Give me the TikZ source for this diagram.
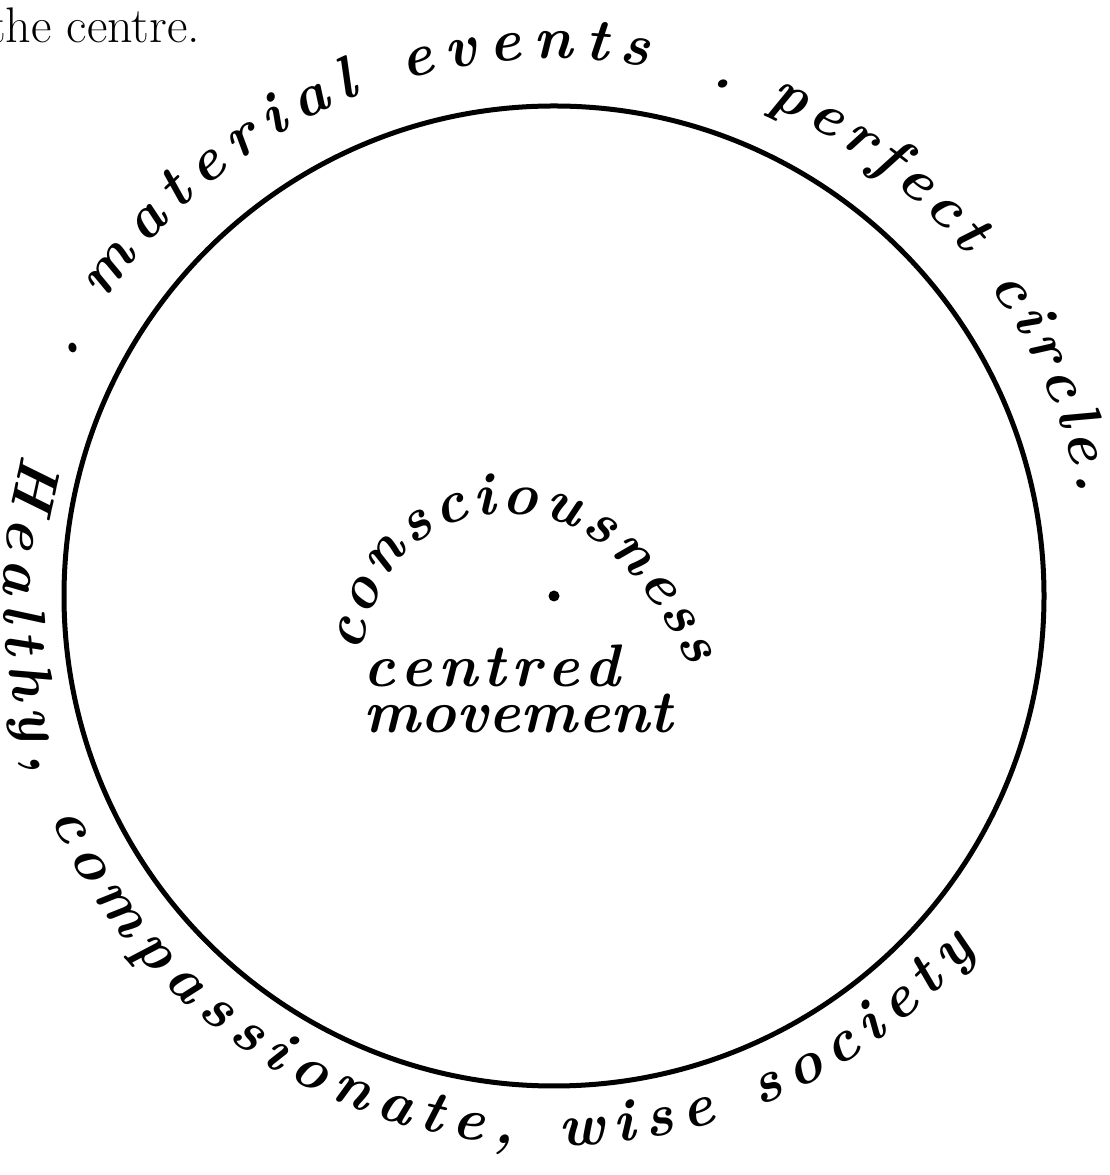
\documentclass[tikz,border=0pt]{standalone}
\usepackage{fontspec}
\usetikzlibrary{decorations.text}
\newcommand\handfont{\fontsize{60}{72}\selectfont\bfseries\itshape}
\tikzset{
  ring/.style={draw=black, line width=5pt},
  handtext/.style={decorate, decoration={text along path, text={|\handfont|#1}, text align={fit to path}}},
  bookfont/.style={font=\fontsize{50}{60}\selectfont}
}
\begin{document}
\begin{tikzpicture}[x=1pt, y=1pt]
  \useasboundingbox (0,0) rectangle (1109,1175);
  \node[bookfont, anchor=base west, inner sep=0pt] (caption) at (-12,1132) {the centre.};
  \coordinate (ctr) at (554,579);
  \draw[ring] (ctr) circle[radius=490];
  \fill (ctr) circle[radius=5.5];
  % words round the outside
  \path[handtext={. material events}, shift={(ctr)}] (154:537) arc[start angle=154, end angle=80, radius=537];
  \path[handtext={. perfect circle.}, shift={(ctr)}] (73:535) arc[start angle=73, end angle=11, radius=535];
  \path[handtext={Healthy, compassionate, wise society}, shift={(ctr)}] (165:550) arc[start angle=165, end angle=320, radius=550];
  % words round the centre
  \path[handtext={consciousness}] (362,522) .. controls (380,640) and (460,668) .. (530,660) .. controls (600,652) and (650,590) .. (690,508);
  \path[handtext={centred}] (363,488) -- (620,488);
  \path[handtext={movement}] (363,442) -- (673,442);
\end{tikzpicture}
\end{document}
